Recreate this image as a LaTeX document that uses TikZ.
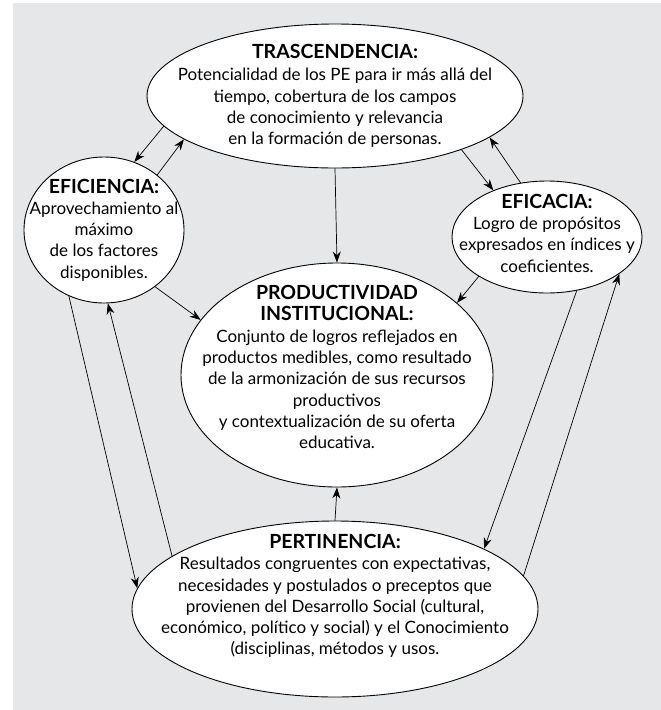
\documentclass[tikz,border=0pt]{standalone}
\usepackage{fontspec}
\setmainfont{Lato}
\usetikzlibrary{shapes.geometric,arrows.meta}
\definecolor{fondo}{RGB}{230,231,232}
\newcommand{\titulo}[1]{{\fontsize{19.5}{21}\selectfont\bfseries #1}}

\begin{document}
\begin{tikzpicture}[x=1pt, y=-1pt,
				line join=round, line cap=round,
				globo/.style = {ellipse, draw, line width=0.9pt, fill=white, inner sep=0pt},
				texto/.style = {align=center, inner sep=0pt, font=\fontsize{17}{21.3}\selectfont},
				flecha/.style = {-{Stealth[length=11pt,width=8pt]}, line width=0.7pt}
				]
				\useasboundingbox (0,0) rectangle (661,710);
				\fill[white] (0,0) rectangle (661,710);
				\fill[fondo] (13,3) rectangle (661,710);
				\node[globo, minimum width=376pt, minimum height=144pt] (tras) at (335,96) {};
				\node[globo, minimum width=160pt, minimum height=146pt] (efic) at (104,230) {};
				\node[globo, minimum width=190pt, minimum height=112pt] (efca) at (547,237) {};
				\node[globo, minimum width=312pt, minimum height=224pt] (prod) at (337,375) {};
				\node[globo, minimum width=406pt, minimum height=176pt] (pert) at (335,609) {};
				\node[texto] (trastxt) at (tras) {\titulo{TRASCENDENCIA:}\\[1pt]
					Potencialidad de los PE para ir más allá del\\
					tiempo, cobertura de los campos\\
					de conocimiento y relevancia\\
					en la formación de personas.};
				\node[texto] (efictxt) at (efic) {\titulo{EFICIENCIA:}\\
					Aprovechamiento al\\ máximo\\ de los factores\\ disponibles.};
				\node[texto] (efcatxt) at ([yshift=4pt]efca.center) {\titulo{EFICACIA:}\\
					Logro de propósitos\\ expresados en índices y\\ coeficientes.};
				\node[texto] (prodtxt) at ([yshift=8pt]prod.center) {\titulo{PRODUCTIVIDAD}\\
					\titulo{INSTITUCIONAL:}\\
					Conjunto de logros reflejados en\\
					productos medibles, como resultado\\
					de la armonización de sus recursos\\
					productivos\\
					y contextualización de su oferta\\
					educativa.};
				\node[texto] (perttxt) at ([yshift=13pt]pert.center) {\titulo{PERTINENCIA:}\\
					Resultados congruentes con expectativas,\\
					necesidades y postulados o preceptos que\\
					provienen del Desarrollo Social (cultural,\\
					económico, político y social) y el Conocimiento\\
					(disciplinas, métodos y usos.};
				\draw[flecha] (tras.190.5) -- (efic.66);
				\draw[flecha] (efic.46) -- (tras.196);
				\draw[flecha] (tras.-23.5) -- (efca.139);
				\draw[flecha] (efca.116) -- (tras.-15.6);
				\draw[flecha] (tras.south) -- (prod.north);
				\draw[flecha] (efic.-48) -- (prod.158);
				\draw[flecha] (efca.210) -- (prod.31);
				\draw[flecha] (pert.north) -- (prod.south);
				\draw[flecha] (efic.242) -- (pert.174);
				\draw[flecha] (pert.162.6) -- (efic.-87);
				\draw[flecha] (efca.-61) -- (pert.22.4);
				\draw[flecha] (pert.10.8) -- (efca.-27.7);
\end{tikzpicture}
\end{document}
